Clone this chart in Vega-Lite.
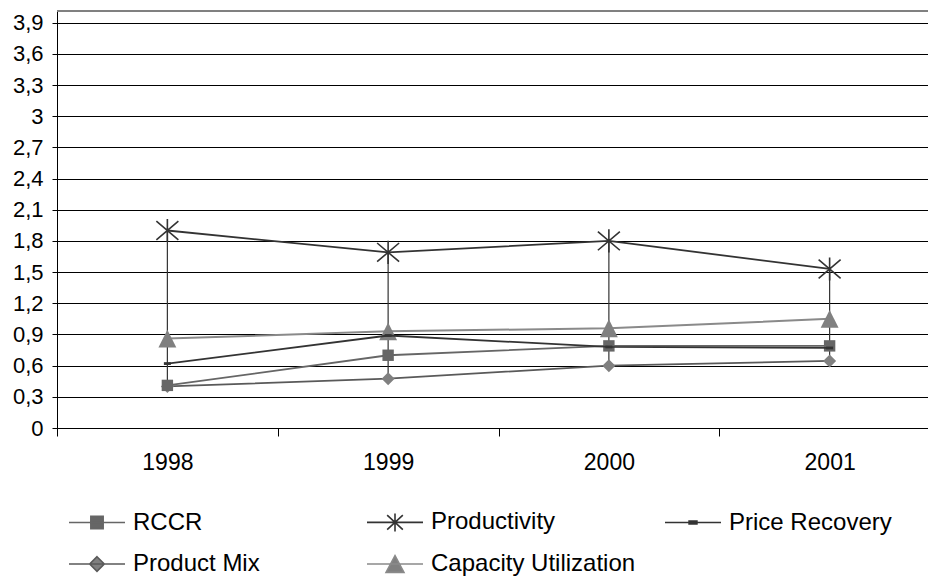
{
  "$schema": "https://vega.github.io/schema/vega-lite/v6.json",
  "width": 871,
  "height": 417,
  "autosize": {"type": "none"},
  "padding": {"left": 57, "top": 11, "right": 0, "bottom": 153},
  "background": "white",
  "config": {"view": {"stroke": null}, "font": "Liberation Sans"},
  "data": {
    "values": [
      {"year": "1998", "series": "RCCR", "value": 0.41},
      {"year": "1999", "series": "RCCR", "value": 0.70},
      {"year": "2000", "series": "RCCR", "value": 0.79},
      {"year": "2001", "series": "RCCR", "value": 0.79},
      {"year": "1998", "series": "Productivity", "value": 1.90},
      {"year": "1999", "series": "Productivity", "value": 1.69},
      {"year": "2000", "series": "Productivity", "value": 1.80},
      {"year": "2001", "series": "Productivity", "value": 1.53},
      {"year": "1998", "series": "Price Recovery", "value": 0.62},
      {"year": "1999", "series": "Price Recovery", "value": 0.89},
      {"year": "2000", "series": "Price Recovery", "value": 0.78},
      {"year": "2001", "series": "Price Recovery", "value": 0.77},
      {"year": "1998", "series": "Product Mix", "value": 0.40},
      {"year": "1999", "series": "Product Mix", "value": 0.475},
      {"year": "2000", "series": "Product Mix", "value": 0.60},
      {"year": "2001", "series": "Product Mix", "value": 0.645},
      {"year": "1998", "series": "Capacity Utilization", "value": 0.86},
      {"year": "1999", "series": "Capacity Utilization", "value": 0.93},
      {"year": "2000", "series": "Capacity Utilization", "value": 0.96},
      {"year": "2001", "series": "Capacity Utilization", "value": 1.05}
    ]
  },
  "layer": [
    {
      "mark": {"type": "rule", "color": "#808080", "strokeWidth": 1},
      "encoding": {"y": {"datum": 4.012, "type": "quantitative", "scale": {"domain": [0, 4.012], "nice": false, "zero": true}}}
    },
    {
      "transform": [
        {"aggregate": [{"op": "min", "field": "value", "as": "lo"}, {"op": "max", "field": "value", "as": "hi"}], "groupby": ["year"]}
      ],
      "mark": {"type": "rule", "color": "#333333", "strokeWidth": 1.2},
      "encoding": {
        "x": {
          "field": "year", "type": "ordinal",
          "scale": {"type": "band", "domain": ["1998", "1999", "2000", "2001"], "range": [0, 883], "paddingInner": 0, "paddingOuter": 0},
          "axis": {"title": null, "tickBand": "extent", "labelAngle": 0, "labelFontSize": 23, "labelColor": "black", "labelFont": "Liberation Sans", "tickSize": 8, "tickColor": "black", "domainColor": "black", "labelPadding": 15, "grid": false}
        },
        "y": {
          "field": "lo", "type": "quantitative",
          "scale": {"domain": [0, 4.012], "nice": false, "zero": true},
          "axis": {"title": null, "values": [0, 0.3, 0.6, 0.9, 1.2, 1.5, 1.8, 2.1, 2.4, 2.7, 3.0, 3.3, 3.6, 3.9], "tickCount": 30, "labelOverlap": false, "grid": true, "gridColor": "black", "gridWidth": 1, "gridOpacity": 1, "domainColor": "black", "tickColor": "black", "tickSize": 5, "labelFontSize": 22, "labelFont": "Liberation Sans", "labelColor": "black", "labelPadding": 9, "labelExpr": "replace(format(datum.value, '.1~f'), '.', ',')"}
        },
        "y2": {"field": "hi"}
      }
    },
    {
      "transform": [{"filter": "datum.series === 'Capacity Utilization'"}],
      "mark": {"type": "line", "color": "#8a8a8a", "strokeWidth": 2, "point": {"shape": "M0,-1L1,1H-1Z", "filled": true, "color": "#808080", "size": 320, "opacity": 1}},
      "encoding": {"x": {"field": "year", "type": "ordinal"}, "y": {"field": "value", "type": "quantitative"}}
    },
    {
      "transform": [{"filter": "datum.series === 'Product Mix'"}],
      "mark": {"type": "line", "color": "#595959", "strokeWidth": 1.8, "point": {"shape": "diamond", "filled": true, "color": "#808080", "size": 169, "opacity": 1}},
      "encoding": {"x": {"field": "year", "type": "ordinal"}, "y": {"field": "value", "type": "quantitative"}}
    },
    {
      "transform": [{"filter": "datum.series === 'RCCR'"}],
      "mark": {"type": "line", "color": "#666666", "strokeWidth": 1.8, "point": {"shape": "square", "filled": true, "color": "#666666", "size": 130, "opacity": 1}},
      "encoding": {"x": {"field": "year", "type": "ordinal"}, "y": {"field": "value", "type": "quantitative"}}
    },
    {
      "transform": [{"filter": "datum.series === 'Price Recovery'"}],
      "mark": {"type": "line", "color": "#333333", "strokeWidth": 1.8, "point": {"shape": "M-1,-0.4H1V0.4H-1Z", "filled": true, "color": "#333333", "size": 49, "opacity": 1}},
      "encoding": {"x": {"field": "year", "type": "ordinal"}, "y": {"field": "value", "type": "quantitative"}}
    },
    {
      "transform": [{"filter": "datum.series === 'Productivity'"}],
      "mark": {"type": "line", "color": "#333333", "strokeWidth": 1.8, "point": {"shape": "M-1,-0.85L1,0.85M-1,0.85L1,-0.85M0,-1.05V1.05", "filled": false, "color": "#333333", "strokeWidth": 1.6, "size": 484, "opacity": 1}},
      "encoding": {"x": {"field": "year", "type": "ordinal"}, "y": {"field": "value", "type": "quantitative"}}
    },
    {
      "transform": [{"filter": "false"}],
      "mark": {"type": "point", "filled": true, "opacity": 1},
      "encoding": {
        "shape": {
          "field": "series", "type": "nominal",
          "scale": {
            "domain": ["RCCR", "Productivity", "Price Recovery", "Product Mix", "Capacity Utilization"],
            "range": [
              "M-1,0H1M-0.22,-0.22H0.22V0.22H-0.22Z",
              "M-1,0H1M-0.28,-0.26L0.28,0.26M-0.28,0.26L0.28,-0.26M0,-0.32V0.32",
              "M-1,0H1M-0.14,-0.05H0.14V0.05H-0.14Z",
              "M-1,0H1M0,-0.26L0.26,0L0,0.26L-0.26,0Z",
              "M-1,0H1M0,-0.3L0.32,0.3H-0.32Z"
            ]
          },
          "legend": {
            "title": null, "orient": "none", "direction": "horizontal", "legendX": 11, "legendY": 482, "columns": 3, "columnPadding": 25, "rowPadding": -10, "gridAlign": "all",
            "symbolSize": 3136, "symbolStrokeWidth": 1.6, "labelFontSize": 24, "labelFont": "Liberation Sans", "labelColor": "black", "labelOffset": 7, "labelLimit": 400, "padding": 0
          }
        },
        "fill": {
          "field": "series", "type": "nominal",
          "scale": {"domain": ["RCCR", "Productivity", "Price Recovery", "Product Mix", "Capacity Utilization"], "range": ["#666666", "#333333", "#333333", "#808080", "#808080"]}
        },
        "stroke": {
          "field": "series", "type": "nominal",
          "scale": {"domain": ["RCCR", "Productivity", "Price Recovery", "Product Mix", "Capacity Utilization"], "range": ["#666666", "#333333", "#333333", "#595959", "#8a8a8a"]}
        }
      }
    }
  ]
}
